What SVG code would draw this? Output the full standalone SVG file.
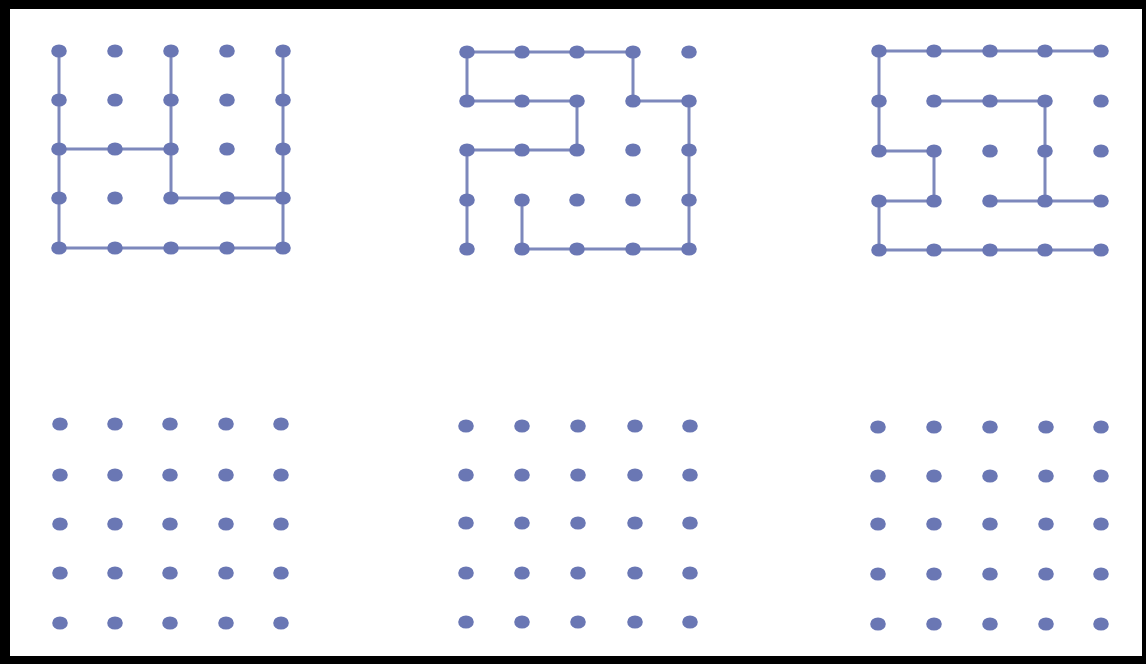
<svg xmlns="http://www.w3.org/2000/svg" width="1146" height="664" viewBox="0 0 1146 664">
<style>
.d{fill:#6a77b4}
.l{fill:none;stroke:#7d88bc;stroke-width:3;stroke-linejoin:round;stroke-linecap:round}
</style>
<defs>
<ellipse id="dot" class="d" cx="0" cy="0" rx="7.8" ry="6.6"/>
</defs>
<rect x="0" y="0" width="1146" height="664" fill="#000000"/>
<rect x="10" y="9" width="1132" height="647" fill="#ffffff"/>
<g id="connectors">
<path class="l" d="M59,51 V248 H283 V51 M59,149 H171 M171,51 V198 H283"/>
<path class="l" d="M633,52 H467 V101 H577 V150 H467 V249 M633,52 V101 H689 V249 H522 V200"/>
<path class="l" d="M1101,51 H879 V151 H934 V201 H879 V250 H1101 M934,101 H1045 V201 M990,201 H1101"/>
</g>
<g id="grid1">
<use href="#dot" x="59" y="51"/><use href="#dot" x="115" y="51"/><use href="#dot" x="171" y="51"/><use href="#dot" x="227" y="51"/><use href="#dot" x="283" y="51"/>
<use href="#dot" x="59" y="100"/><use href="#dot" x="115" y="100"/><use href="#dot" x="171" y="100"/><use href="#dot" x="227" y="100"/><use href="#dot" x="283" y="100"/>
<use href="#dot" x="59" y="149"/><use href="#dot" x="115" y="149"/><use href="#dot" x="171" y="149"/><use href="#dot" x="227" y="149"/><use href="#dot" x="283" y="149"/>
<use href="#dot" x="59" y="198"/><use href="#dot" x="115" y="198"/><use href="#dot" x="171" y="198"/><use href="#dot" x="227" y="198"/><use href="#dot" x="283" y="198"/>
<use href="#dot" x="59" y="248"/><use href="#dot" x="115" y="248"/><use href="#dot" x="171" y="248"/><use href="#dot" x="227" y="248"/><use href="#dot" x="283" y="248"/>
</g>
<g id="grid2">
<use href="#dot" x="467" y="52"/><use href="#dot" x="522" y="52"/><use href="#dot" x="577" y="52"/><use href="#dot" x="633" y="52"/><use href="#dot" x="689" y="52"/>
<use href="#dot" x="467" y="101"/><use href="#dot" x="522" y="101"/><use href="#dot" x="577" y="101"/><use href="#dot" x="633" y="101"/><use href="#dot" x="689" y="101"/>
<use href="#dot" x="467" y="150"/><use href="#dot" x="522" y="150"/><use href="#dot" x="577" y="150"/><use href="#dot" x="633" y="150"/><use href="#dot" x="689" y="150"/>
<use href="#dot" x="467" y="200"/><use href="#dot" x="522" y="200"/><use href="#dot" x="577" y="200"/><use href="#dot" x="633" y="200"/><use href="#dot" x="689" y="200"/>
<use href="#dot" x="467" y="249"/><use href="#dot" x="522" y="249"/><use href="#dot" x="577" y="249"/><use href="#dot" x="633" y="249"/><use href="#dot" x="689" y="249"/>
</g>
<g id="grid3">
<use href="#dot" x="879" y="51"/><use href="#dot" x="934" y="51"/><use href="#dot" x="990" y="51"/><use href="#dot" x="1045" y="51"/><use href="#dot" x="1101" y="51"/>
<use href="#dot" x="879" y="101"/><use href="#dot" x="934" y="101"/><use href="#dot" x="990" y="101"/><use href="#dot" x="1045" y="101"/><use href="#dot" x="1101" y="101"/>
<use href="#dot" x="879" y="151"/><use href="#dot" x="934" y="151"/><use href="#dot" x="990" y="151"/><use href="#dot" x="1045" y="151"/><use href="#dot" x="1101" y="151"/>
<use href="#dot" x="879" y="201"/><use href="#dot" x="934" y="201"/><use href="#dot" x="990" y="201"/><use href="#dot" x="1045" y="201"/><use href="#dot" x="1101" y="201"/>
<use href="#dot" x="879" y="250"/><use href="#dot" x="934" y="250"/><use href="#dot" x="990" y="250"/><use href="#dot" x="1045" y="250"/><use href="#dot" x="1101" y="250"/>
</g>
<g id="grid4">
<use href="#dot" x="60" y="424"/><use href="#dot" x="115" y="424"/><use href="#dot" x="170" y="424"/><use href="#dot" x="226" y="424"/><use href="#dot" x="281" y="424"/>
<use href="#dot" x="60" y="475"/><use href="#dot" x="115" y="475"/><use href="#dot" x="170" y="475"/><use href="#dot" x="226" y="475"/><use href="#dot" x="281" y="475"/>
<use href="#dot" x="60" y="524"/><use href="#dot" x="115" y="524"/><use href="#dot" x="170" y="524"/><use href="#dot" x="226" y="524"/><use href="#dot" x="281" y="524"/>
<use href="#dot" x="60" y="573"/><use href="#dot" x="115" y="573"/><use href="#dot" x="170" y="573"/><use href="#dot" x="226" y="573"/><use href="#dot" x="281" y="573"/>
<use href="#dot" x="60" y="623"/><use href="#dot" x="115" y="623"/><use href="#dot" x="170" y="623"/><use href="#dot" x="226" y="623"/><use href="#dot" x="281" y="623"/>
</g>
<g id="grid5">
<use href="#dot" x="466" y="426"/><use href="#dot" x="522" y="426"/><use href="#dot" x="578" y="426"/><use href="#dot" x="635" y="426"/><use href="#dot" x="690" y="426"/>
<use href="#dot" x="466" y="475"/><use href="#dot" x="522" y="475"/><use href="#dot" x="578" y="475"/><use href="#dot" x="635" y="475"/><use href="#dot" x="690" y="475"/>
<use href="#dot" x="466" y="523"/><use href="#dot" x="522" y="523"/><use href="#dot" x="578" y="523"/><use href="#dot" x="635" y="523"/><use href="#dot" x="690" y="523"/>
<use href="#dot" x="466" y="573"/><use href="#dot" x="522" y="573"/><use href="#dot" x="578" y="573"/><use href="#dot" x="635" y="573"/><use href="#dot" x="690" y="573"/>
<use href="#dot" x="466" y="622"/><use href="#dot" x="522" y="622"/><use href="#dot" x="578" y="622"/><use href="#dot" x="635" y="622"/><use href="#dot" x="690" y="622"/>
</g>
<g id="grid6">
<use href="#dot" x="878" y="427"/><use href="#dot" x="934" y="427"/><use href="#dot" x="990" y="427"/><use href="#dot" x="1046" y="427"/><use href="#dot" x="1101" y="427"/>
<use href="#dot" x="878" y="476"/><use href="#dot" x="934" y="476"/><use href="#dot" x="990" y="476"/><use href="#dot" x="1046" y="476"/><use href="#dot" x="1101" y="476"/>
<use href="#dot" x="878" y="524"/><use href="#dot" x="934" y="524"/><use href="#dot" x="990" y="524"/><use href="#dot" x="1046" y="524"/><use href="#dot" x="1101" y="524"/>
<use href="#dot" x="878" y="574"/><use href="#dot" x="934" y="574"/><use href="#dot" x="990" y="574"/><use href="#dot" x="1046" y="574"/><use href="#dot" x="1101" y="574"/>
<use href="#dot" x="878" y="624"/><use href="#dot" x="934" y="624"/><use href="#dot" x="990" y="624"/><use href="#dot" x="1046" y="624"/><use href="#dot" x="1101" y="624"/>
</g>
</svg>
